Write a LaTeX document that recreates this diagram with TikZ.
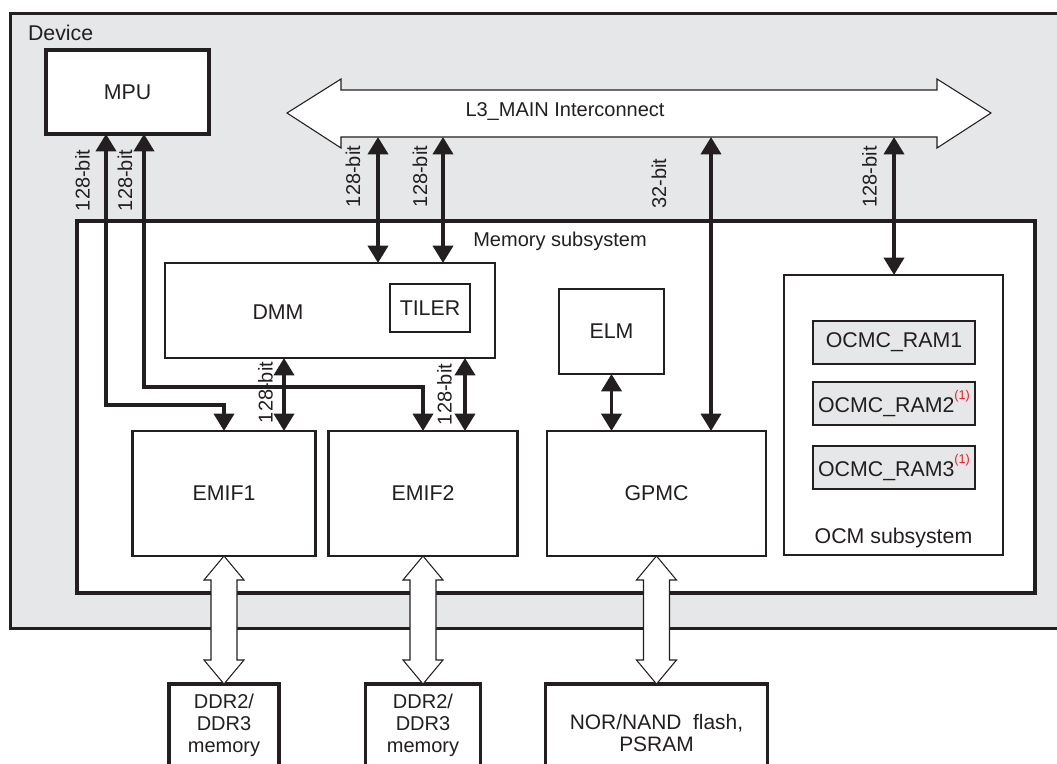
\documentclass[tikz,border=0pt]{standalone}
\usepackage{fontspec}
\setmainfont{Liberation Sans}
\usetikzlibrary{arrows.meta,calc}
\definecolor{devgray}{HTML}{E6E7E8}
\definecolor{ink}{HTML}{231F20}
\definecolor{noteRed}{HTML}{ED1C24}
\newcommand\fnote{\raisebox{0.6em}{\fontsize{9.5}{9.5}\selectfont\color{noteRed}(1)}}
\newcommand\hollowarrow[2]{%
  \draw[hollow] let \p1=(#1.south), \p2=(#2.north) in
    (\x1,\y1) -- (\x1+15pt,\y1-18pt) -- (\x1+9.75pt,\y1-18pt) -- (\x1+9.75pt,\y2+18pt)
    -- (\x1+15pt,\y2+18pt) -- (\x1,\y2) -- (\x1-15pt,\y2+18pt) -- (\x1-9.75pt,\y2+18pt)
    -- (\x1-9.75pt,\y1-18pt) -- (\x1-15pt,\y1-18pt) -- cycle;}
\begin{document}
\begin{tikzpicture}[x=0.75pt,y=-0.75pt,
  >={Triangle[width=15pt,length=13pt]},
  every node/.style={font=\fontsize{15}{16.5}\selectfont, text=ink, inner sep=0pt, outer sep=0pt},
  big/.style={font=\fontsize{16}{17}\selectfont},
  box/.style={draw=ink, fill=white, line width=1.6pt},
  thickbox/.style={draw=ink, fill=white, line width=2.4pt},
  ram/.style={draw=ink, fill=devgray, line width=1.6pt, minimum width=162*0.75pt, minimum height=43*0.75pt, big},
  conn/.style={draw=ink, line width=2.8pt, <->, line join=miter},
  bits/.style={rotate=90},
  hollow/.style={draw=ink, fill=white, line width=0.8pt, line join=miter},
]
\useasboundingbox (0,0) rectangle (1057,764);
\clip (0,0) rectangle (1057,764);

% device
\node[thickbox, line width=2.25pt, fill=devgray, minimum width=1065*0.75pt, minimum height=615*0.75pt] (dev) at (542.5,320.5) {};
\node[anchor=west, big] (devlbl) at (28,33) {Device};

% L3 interconnect
\draw[hollow] (287,113) -- (341,79) -- (341,90) -- (937,90) -- (937,79) -- (991,113)
  -- (937,148) -- (937,137) -- (341,137) -- (341,148) -- cycle;
\node (l3) at (565,112) {L3\_MAIN Interconnect};

% MPU
\node[thickbox, big, minimum width=163*0.75pt, minimum height=84*0.75pt] (mpu) at (127.5,92) {MPU};

% memory subsystem
\node[thickbox, line width=2.6pt, minimum width=958*0.75pt, minimum height=372*0.75pt] (mem) at (556,407) {};
\node (memlbl) at (560,241) {Memory subsystem};

\node[box, minimum width=330*0.75pt, minimum height=95*0.75pt] (dmm) at (330,310.5) {};
\node[big] (dmmlbl) at (278,312) {DMM};
\node[box, big, line width=1.2pt, minimum width=80*0.75pt, minimum height=48*0.75pt] (tiler) at (430,308) {TILER};
\node[box, big, minimum width=105*0.75pt, minimum height=85*0.75pt] (elm) at (611.5,331.5) {ELM};
\node[box, big, minimum width=183*0.75pt, minimum height=125*0.75pt] (emif1) at (224,493.5) {EMIF1};
\node[box, big, minimum width=189*0.75pt, minimum height=125*0.75pt] (emif2) at (423,493.5) {EMIF2};
\node[box, big, minimum width=219*0.75pt, minimum height=125*0.75pt] (gpmc) at (656.5,493.5) {GPMC};

\node[box, minimum width=219*0.75pt, minimum height=280*0.75pt] (ocm) at (893.5,415) {};
\node[big] (ocmlbl) at (893.5,538) {OCM subsystem};
\node[ram] (ram1) at (894,342.5) {OCMC\_RAM1};
\node[ram] (ram2) at (894,403.5) {OCMC\_RAM2\fnote};
\node[ram] (ram3) at (894,467.5) {OCMC\_RAM3\fnote};

% external memories
\node[thickbox, anchor=north, minimum width=110*0.75pt, minimum height=120*0.75pt] (ddr1) at (224,684) {};
\node[align=center] (ddr1lbl) at (224,725) {DDR2/\\DDR3\\memory};
\node[thickbox, anchor=north, minimum width=115*0.75pt, minimum height=120*0.75pt] (ddr2) at (423,684) {};
\node[align=center] (ddr2lbl) at (423,725) {DDR2/\\DDR3\\memory};
\node[thickbox, anchor=north, minimum width=222*0.75pt, minimum height=120*0.75pt] (nor) at (656.5,684) {};
\node[align=center, font=\fontsize{15.7}{17}\selectfont] (norlbl) at (656.5,733) {NOR/NAND\ \ flash,\\PSRAM};

% connectors
\coordinate (k1) at (106,405);
\coordinate (k2) at (144,387);
\draw[conn] (mpu.south -| k1) -- (k1) -- (k1 -| emif1.north) -- (emif1.north);
\draw[conn] (mpu.south -| k2) -- (k2) -- (k2 -| emif2.north) -- (emif2.north);
\node[bits] (b1) at (82.5,180.5) {128-bit};
\node[bits] (b2) at (125,180.5) {128-bit};

\coordinate (l3a) at (378,137);
\coordinate (l3b) at (443,137);
\coordinate (l3c) at (711,137);
\coordinate (l3d) at (894,137);
\draw[conn] (l3a) -- (l3a |- dmm.north);
\draw[conn] (l3b) -- (l3b |- dmm.north);
\draw[conn] (l3c) -- (l3c |- gpmc.north);
\draw[conn] (l3d) -- (l3d |- ocm.north);
\node[bits] (b3) at (353,176.5) {128-bit};
\node[bits] (b4) at (420,176.5) {128-bit};
\node[bits] (b5) at (659,183.5) {32-bit};
\node[bits] (b6) at (869.5,177) {128-bit};

\coordinate (d1) at (284,0);
\coordinate (d2) at (465,0);
\draw[conn] (d1 |- dmm.south) -- (d1 |- emif1.north);
\draw[conn] (d2 |- dmm.south) -- (d2 |- emif2.north);
\node[bits] (b7) at (265.5,392.5) {128-bit};
\node[bits] (b8) at (444.5,394.5) {128-bit};
\draw[conn] (elm.south) -- (elm.south |- gpmc.north);

% hollow external buses
\hollowarrow{emif1}{ddr1}
\hollowarrow{emif2}{ddr2}
\hollowarrow{gpmc}{nor}
\end{tikzpicture}
\end{document}
